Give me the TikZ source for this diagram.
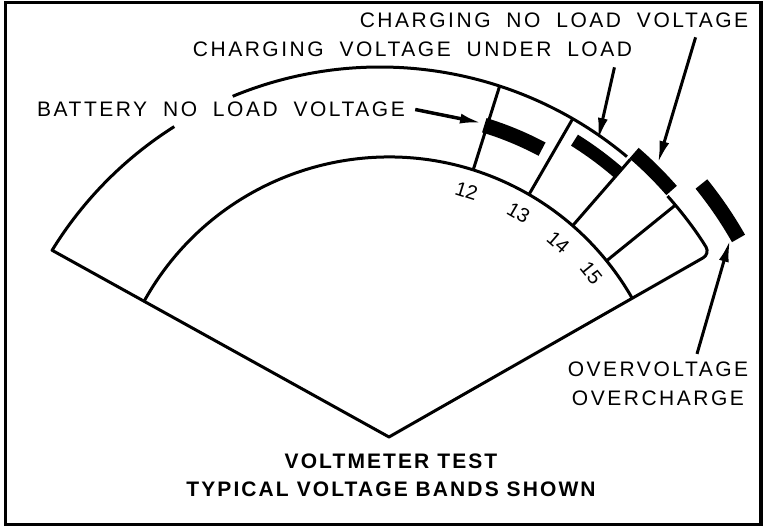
\documentclass[tikz,border=0pt]{standalone}
\usepackage{fontspec}
\setmainfont{Liberation Sans}
\newfontfamily\platefont[LetterSpace=12, WordSpace=1.9]{Liberation Sans}
\newfontfamily\titlefont[LetterSpace=10]{Liberation Sans}
\usetikzlibrary{arrows.meta}
\tikzset{
    meter-line/.style = {draw=black, line width=1.5pt, line join=round},
    band-mark/.style = {draw=black, line width=7pt},
    pointer/.style = {draw=black, line width=1.5pt, -{Latex[length=11pt, width=5pt]}},
    plate-text/.style = {font=\platefont\fontsize{10.5}{14.25}\selectfont, inner sep=0pt, align=center},
    plate-title/.style = {font=\titlefont\bfseries\fontsize{10.5}{14}\selectfont, inner sep=0pt, align=center},
    scale-number/.style = {font=\fontsize{10}{12}\selectfont, inner sep=0pt},
}

\begin{document}
\begin{tikzpicture}[x=0.5pt, y=0.5pt]
\useasboundingbox (0,0) rectangle (768,530);
\draw[line width=1.75pt] (5.5,5.5) rectangle (761,527.5);
\coordinate (apex) at (389,93);
\coordinate (rim) at (380,78);
% dial outline
\draw[meter-line] (rim) ++(122.3:385) arc[start angle=122.3, end angle=148.4, radius=385]
    -- (apex) [rounded corners=4pt] -- ++(29.7:369.7) arc[start angle=31, end angle=41.7, radius=385];
\draw[meter-line] (rim) ++(112.5:385) arc[start angle=112.5, end angle=50.1, radius=385];
\draw[meter-line] (apex) ++(151:280) arc[start angle=151, end angle=29.7, radius=280];
% scale divisions
\draw[meter-line] (apex) ++(72.5:280) -- ++(72.5:88);
\draw[meter-line] (apex) ++(60:280) -- ++(60:87.5);
\draw[meter-line] (apex) ++(49:280) -- ++(49:88);
\draw[meter-line] (apex) ++(39:280) -- ++(39:88.6);
\path (apex) ++(72.5:258) node[scale-number, rotate=-17.5] (mark-12) {12};
\path (apex) ++(60:259) node[scale-number, rotate=-30] (mark-13) {13};
\path (apex) ++(49:258) node[scale-number, rotate=-41] (mark-14) {14};
\path (apex) ++(39:260) node[scale-number, rotate=-51] (mark-15) {15};
% voltage bands
\draw[band-mark, line width=7.5pt] (apex) ++(73:326) arc[start angle=73, end angle=62, radius=326];
\draw[band-mark, line width=6.5pt] (apex) ++(58:350) arc[start angle=58, end angle=49, radius=350];
\draw[band-mark] (apex) ++(49.2:375) arc[start angle=49.2, end angle=41.1, radius=375];
\draw[band-mark, line width=7.5pt] (apex) ++(39:402) arc[start angle=39, end angle=29.6, radius=402];
\coordinate (battery-band) at (482,407);
\coordinate (load-band) at (598,390);
\coordinate (idle-band) at (658,367);
\coordinate (over-band) at (730,290);
% labels
\node[plate-text] (battery) at (221,420.5) {BATTERY NO LOAD VOLTAGE};
\node[plate-text] (under-load) at (412.5,480.5) {CHARGING VOLTAGE UNDER LOAD};
\node[plate-text] (no-load) at (554,509.5) {CHARGING NO LOAD VOLTAGE};
\node[plate-text] (over) at (658,146) {OVERVOLTAGE\\OVERCHARGE};
\node[plate-title] (title) at (391,54.5) {VOLTMETER TEST\\TYPICAL VOLTAGE BANDS SHOWN};
\draw[pointer, line width=1.75pt] ([xshift=5pt]battery.east) -- (battery-band);
\draw[pointer] ([xshift=-9pt, yshift=-5pt]under-load.south east) -- (load-band);
\draw[pointer] ([xshift=-26.5pt, yshift=-4.5pt]no-load.south east) -- (idle-band);
\draw[pointer] ([xshift=19.5pt, yshift=4pt]over.north) -- (over-band);
\end{tikzpicture}
\end{document}
